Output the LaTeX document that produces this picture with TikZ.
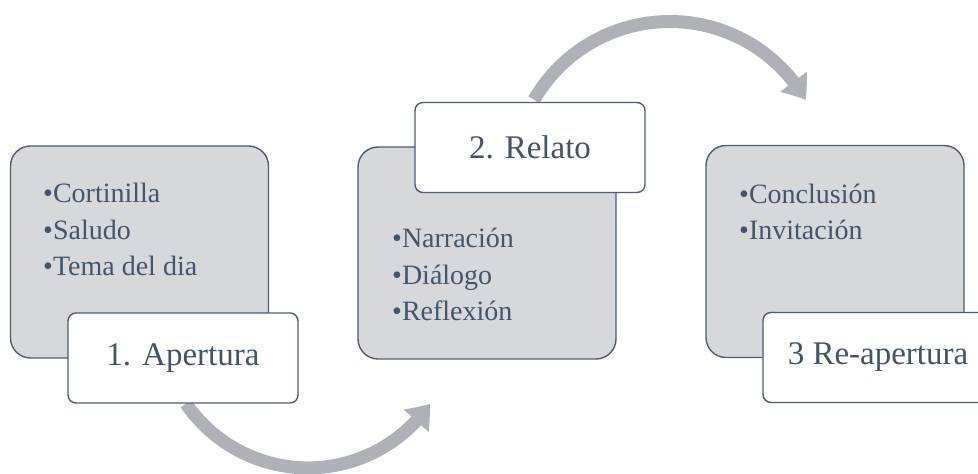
\documentclass[tikz,border=0pt]{standalone}
\usepackage{fontspec}
\setmainfont{Liberation Serif}
\usetikzlibrary{arrows.meta,backgrounds,bending}
\definecolor{txtblue}{HTML}{44546A}
\definecolor{edgeblue}{HTML}{4D5D72}
\definecolor{boxgray}{HTML}{D6D8DC}
\definecolor{arrowgray}{HTML}{AEB1B8}
\tikzset{
  bigbox/.style={draw=edgeblue, line width=1.4pt, fill=boxgray, rounded corners=20pt,
    minimum width=258pt, minimum height=212pt, inner sep=0pt},
  labelbox/.style={draw=edgeblue, line width=1.4pt, fill=white, rounded corners=8pt,
    minimum width=230pt, minimum height=90pt, inner sep=0pt, text=txtblue,
    font=\fontsize{33}{36}\selectfont},
  bullets/.style={text=txtblue, align=left, inner sep=0pt, anchor=base west,
    font=\fontsize{28}{36.5}\selectfont},
  flowarrow/.style={draw=arrowgray, line width=13pt,
    -{Triangle[width=32pt,length=22pt,bend]}}
}
\begin{document}
\begin{tikzpicture}[x=1pt,y=1pt]
\useasboundingbox (0,0) rectangle (978,474);
% boxes
\node[bigbox] (box1) at (139.5,222) {};
\node[bullets] (t1) at (43,198) {•Cortinilla\\•Saludo\\•Tema del dia};
\node[labelbox] (lab1) at (183,116) {1. Apertura};
\node[bigbox] (box2) at (487,221) {};
\node[bullets] (t2) at (392,153) {•Narración\\•Diálogo\\•Reflexión};
\node[labelbox] (lab2) at (530,326.5) {2. Relato};
\node[bigbox] (box3) at (835,222.5) {};
\node[bullets] (t3) at (739,234) {•Conclusión\\•Invitación};
\node[labelbox] (lab3) at (878,116.5) {3 Re-apertura};
% arrows
\begin{scope}[on background layer]
\draw[flowarrow] ([xshift=3pt]lab1.south) arc[start angle=214.5, end angle=325.5, radius=148];
\draw[flowarrow] ([xshift=4pt,yshift=2pt]lab2.north) arc[start angle=149.9, end angle=30, radius=157];
\end{scope}
\end{tikzpicture}
\end{document}
